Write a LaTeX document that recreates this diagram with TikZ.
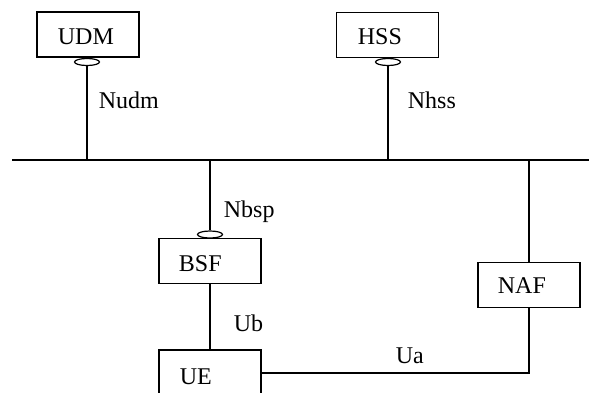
\documentclass[tikz,border=0pt]{standalone}
\usepackage{fontspec}
\setmainfont{Liberation Serif}
\usetikzlibrary{shapes.geometric}
\begin{document}
\begin{tikzpicture}[x=1pt,y=-1pt, line width=1.8pt,
 nfbox/.style={draw, rectangle, inner sep=0pt, minimum width=102pt, minimum height=45pt},
 port/.style={draw, ellipse, inner sep=0pt, minimum width=25pt, minimum height=7pt, line width=1.2pt},
 lbl/.style={anchor=base west, inner sep=0pt, font=\fontsize{24}{28}\selectfont}]
\useasboundingbox (0,0) rectangle (589,392);
\clip (0,0) rectangle (589,392);
% boxes
\node[nfbox] (udm) at (88,34.5) {};
\node[nfbox] (hss) at (387.5,35) {};
\node[nfbox] (bsf) at (210,261) {};
\node[nfbox] (naf) at (529,285) {};
\node[nfbox, minimum height=62pt] (ue) at (210,381) {};
% box texts
\node[lbl] (udmt) at (57,44) {UDM};
\node[lbl] (hsst) at (357,44) {HSS};
\node[lbl] (bsft) at (178,271) {BSF};
\node[lbl] (naft) at (497,293) {NAF};
\node[lbl] (uet) at (179,384) {UE};
% ports
\node[port] (udmp) at (87,62) {};
\node[port] (hssp) at (388,62) {};
\node[port] (bsfp) at (210,234.5) {};
% bus
\coordinate (busL) at (12,160);
\coordinate (busR) at (589,160);
\draw (busL) -- (busR);
\draw (udmp.south) -- (udmp.south |- busL);
\draw (hssp.south) -- (hssp.south |- busL);
\draw (bsfp.north |- busL) -- (bsfp.north);
\draw (naf.north |- busL) -- (naf.north);
\draw (bsf.south) -- (ue.north);
\coordinate (uaC) at (529,373);
\draw (naf.south) -- (uaC) -- (uaC -| ue.east);
% interface labels
\node[lbl] (nudm) at (98,108) {Nudm};
\node[lbl] (nhss) at (407,108) {Nhss};
\node[lbl] (nbsp) at (223,217) {Nbsp};
\node[lbl] (ub) at (233,331) {Ub};
\node[lbl] (ua) at (395,363) {Ua};
\end{tikzpicture}
\end{document}
